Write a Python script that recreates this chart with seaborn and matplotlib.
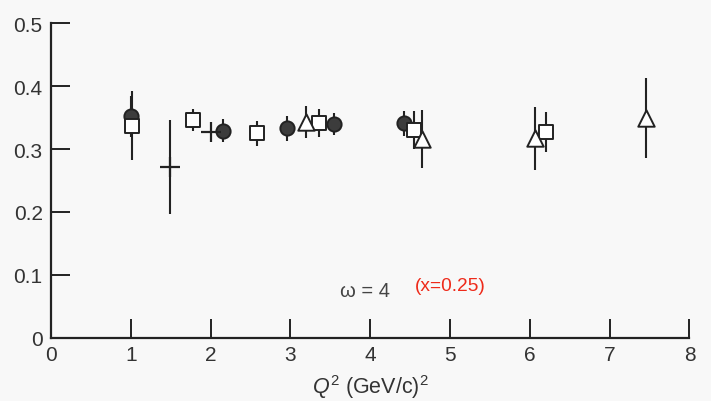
import matplotlib
matplotlib.use("Agg")
import matplotlib.pyplot as plt
import seaborn as sns
import pandas as pd

# ---- data ----
circle_x = [1.0, 2.15, 2.96, 3.55, 4.42]
circle_y = [0.352, 0.329, 0.333, 0.340, 0.341]
circle_err = [0.033, 0.018, 0.020, 0.017, 0.020]

square_x = [1.01, 1.78, 2.58, 3.36, 4.55, 6.20]
square_y = [0.337, 0.346, 0.325, 0.341, 0.330, 0.327]
square_err = [0.055, 0.018, 0.020, 0.022, 0.030, 0.032]

triangle_x = [3.20, 4.65, 6.07, 7.46]
triangle_y = [0.343, 0.316, 0.317, 0.349]
triangle_err = [0.025, 0.046, 0.050, 0.064]

cross_x = [1.49, 2.00]
cross_y = [0.271, 0.327]
cross_err = [0.075, 0.0]

x_ticks = [0, 1, 2, 3, 4, 5, 6, 7, 8]
y_ticks = [0, 0.1, 0.2, 0.3, 0.4, 0.5]
y_ticklabels = ["0", "0.1", "0.2", "0.3", "0.4", "0.5"]

sns.set_style("ticks")
plt.rcParams["font.family"] = ["Liberation Sans", "DejaVu Sans"]
plt.rcParams["mathtext.fontset"] = "custom"
plt.rcParams["mathtext.it"] = "Liberation Sans:italic"
plt.rcParams["mathtext.rm"] = "Liberation Sans"

bg = "#f8f8f8"
ink = "#222222"
txt = "#333333"

fig = plt.figure(figsize=(7.11, 4.02), dpi=100, facecolor=bg)
ax = fig.add_axes([0.0717, 0.157, 0.898, 0.783])
ax.set_facecolor(bg)

# error bars
for xs, ys, es in [(circle_x, circle_y, circle_err), (square_x, square_y, square_err),
                   (triangle_x, triangle_y, triangle_err), (cross_x, cross_y, cross_err)]:
    ax.errorbar(xs, ys, yerr=es, fmt="none", ecolor=ink, elinewidth=1.5, capsize=0, zorder=2)

df = pd.DataFrame({
    "x": circle_x + square_x + triangle_x,
    "y": circle_y + square_y + triangle_y,
    "kind": ["circle"] * len(circle_x) + ["square"] * len(square_x) + ["triangle"] * len(triangle_x),
})
sizes = {"circle": 105, "square": 110, "triangle": 140}
for z, (kind, mk) in enumerate([("circle", "o"), ("square", "s"), ("triangle", "^")]):
    sub = df[df.kind == kind]
    sns.scatterplot(data=sub, x="x", y="y", marker=mk, s=sizes[kind],
                    color="#3c3c3c" if kind == "circle" else "white",
                    edgecolor=ink, linewidth=1.4, ax=ax, zorder=3 + z, legend=False)

sns.scatterplot(x=cross_x, y=cross_y, marker="+", s=190, color=ink,
                linewidth=1.6, ax=ax, zorder=3, legend=False)

ax.set_xlim(0, 8)
ax.set_ylim(0, 0.5)
ax.set_xticks(x_ticks)
ax.set_yticks(y_ticks)
ax.set_yticklabels(y_ticklabels)
ax.tick_params(direction="in", length=14, width=1.4, color=ink, labelsize=15,
               labelcolor=txt, pad=6)
ax.tick_params(axis="x", pad=5)
sns.despine(ax=ax)
for s in ("left", "bottom"):
    ax.spines[s].set_linewidth(1.6)
    ax.spines[s].set_color(ink)

ax.set_xlabel("$Q^2$ (GeV/c)$^2$", fontsize=15.5, color=txt, labelpad=6)
ax.set_ylabel("")

ax.text(3.93, 0.075, "ω = 4", fontsize=14.5, color="#444444", ha="center", va="center")
ax.text(5.0, 0.084, "(x=0.25)", fontsize=13.8, color="#ee2a1a", ha="center", va="center")

fig.savefig("out.png", dpi=100, facecolor=bg)
